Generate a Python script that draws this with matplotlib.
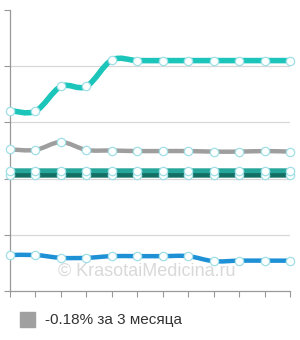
import numpy as np
import matplotlib.pyplot as plt
from matplotlib.path import Path
from matplotlib.patches import PathPatch

months = np.arange(12)

teal_top = [3.21, 3.20, 3.64, 3.64, 4.11, 4.10, 4.10, 4.10, 4.10, 4.10, 4.10, 4.10]
gray_line = [2.52, 2.51, 2.65, 2.51, 2.50, 2.49, 2.49, 2.49, 2.48, 2.48, 2.49, 2.48]
teal_mid = [2.14] * 12
teal_dark = [2.06] * 12
blue_line = [0.64, 0.64, 0.59, 0.59, 0.62, 0.62, 0.62, 0.62, 0.53, 0.54, 0.54, 0.54]

series = [
    (blue_line, '#1e90d6', 3.2),
    (teal_dark, '#136f63', 3.5),
    (teal_mid, '#26a69a', 3.5),
    (gray_line, '#9e9e9e', 3.2),
    (teal_top, '#1cc5ba', 4.0),
]

legend_text = '-0.18% за 3 месяца'


def spline_path(x, y):
    # catmull-rom -> bezier
    x = np.asarray(x, float)
    y = np.asarray(y, float)
    verts = [(x[0], y[0])]
    codes = [Path.MOVETO]
    n = len(x)
    for i in range(n - 1):
        x0, y0 = (x[i - 1], y[i - 1]) if i > 0 else (x[i], y[i])
        x3, y3 = (x[i + 2], y[i + 2]) if i + 2 < n else (x[i + 1], y[i + 1])
        c1 = (x[i] + (x[i + 1] - x0) / 6, y[i] + (y[i + 1] - y0) / 6)
        c2 = (x[i + 1] - (x3 - x[i]) / 6, y[i + 1] - (y3 - y[i]) / 6)
        verts += [c1, c2, (x[i + 1], y[i + 1])]
        codes += [Path.CURVE4] * 3
    return Path(verts, codes)


plt.rcParams['font.family'] = ['Liberation Sans', 'DejaVu Sans']
fig = plt.figure(figsize=(3, 3.4), dpi=100)
ax = fig.add_axes([10 / 300, 49 / 340, 280 / 300, 281 / 340])

for vals, col, lw in series:
    ax.add_patch(PathPatch(spline_path(months, vals), fill=False, edgecolor=col,
                           linewidth=lw, capstyle='round', zorder=3, clip_on=False))
    ax.plot(months, vals, linestyle='none', marker='o', markersize=6,
            markerfacecolor='white', markeredgecolor='#9fdfe6', markeredgewidth=0.9,
            zorder=4, clip_on=False)

ax.set_xlim(0, 11)
ax.set_ylim(0, 5)
ax.set_xticks(months)
ax.set_yticks(range(6))
ax.set_xticklabels([])
ax.set_yticklabels([])
ax.tick_params(length=4, width=0.8, color='#999999')
for y in range(1, 5):
    ax.axhline(y, color='#d8d8d8', linewidth=0.9, zorder=1)
for s in ['top', 'right']:
    ax.spines[s].set_visible(False)
for s in ['left', 'bottom']:
    ax.spines[s].set_color('#999999')
    ax.spines[s].set_linewidth(0.9)

ax.text(0.49, 0.07, '© KrasotaiMedicina.ru', transform=ax.transAxes, ha='center',
        va='center', fontsize=13, color='#d9d9d9', zorder=2)

fig.patches.append(plt.Rectangle((20 / 300, 1 - 327 / 340), 15 / 300, 15 / 340,
                                 transform=fig.transFigure, color='#a0a0a0'))
fig.text(45 / 300, 1 - 320 / 340, legend_text, fontsize=11, va='center', color='#333333')

fig.savefig('out.png', dpi=100)
